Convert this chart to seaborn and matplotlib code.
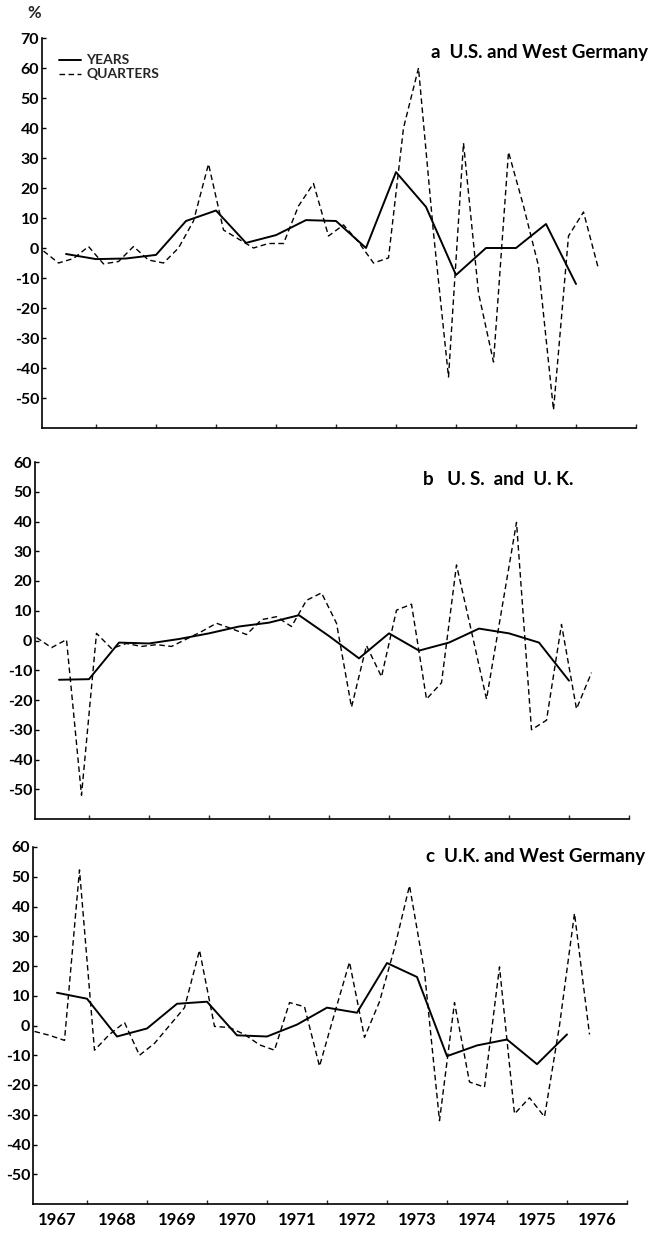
import numpy as np
import pandas as pd
import matplotlib
matplotlib.use("Agg")
import matplotlib.pyplot as plt
import seaborn as sns

# quarterly observations, 1967 Q1 .. 1976 Q2
q_year = np.repeat(np.arange(1967, 1977), 4)[:38]
q_num = np.tile([1, 2, 3, 4], 10)[:38]

# half-yearly points of the annual series, mid 1967 .. end 1975
h_year = np.repeat(np.arange(1967, 1976), 2)
h_half = np.tile([1, 2], 9)

# a  U.S. and West Germany
us_wg_quarters = [-1, -5, -3.5, 0.5, -5.3, -4.5, 0.5, -4, -5, 0,
                  9, 28, 6, 3, 0, 1.5, 1.5, 14, 21.5, 4,
                  7.7, 2, -5, -3.3, 40, 60, 5, -43, 35, -15,
                  -38, 32, 14, -6, -54, 4, 12, -7]
us_wg_years = [-2, -3.7, -3.5, -2.3, 9, 12.5, 1.7, 4.3, 9.3, 9,
               0, 25.3, 13.7, -9, 0, 0, 8, -12]

# b  U.S. and U.K.
us_uk_quarters = [1, -2.4, 0.3, -52, 2.4, -2.7, -1, -2, -1.4, -2,
                  0.5, 3, 5.8, 4, 2, 7, 8, 4.7, 13.5, 16,
                  5.8, -22.4, -1.7, -12.2, 10.2, 12.2, -19.7, -14.2, 25.4, 3,
                  -19.7, 10, 39.7, -30, -26.8, 5.4, -23, -10.8]
us_uk_years = [-13.2, -13, -0.7, -1, 0.5, 2.4, 4.7, 6, 8.5, 1.5,
               -6, 2.4, -3.4, -0.7, 4, 2.4, -0.7, -13.5]

# c  U.K. and West Germany
uk_wg_quarters = [-2, -3.3, -5, 52.3, -8.3, -3, 1, -10, -6, 0,
                  6, 25.3, -0.3, -0.7, -3, -6.5, -8.3, 7.7, 6.3, -13.7,
                  4, 21.3, -4, 8, 26, 47, 18, -32, 7.7, -19,
                  -20.7, 19.7, -29.7, -24.3, -30.7, 0, 37.7, -3]
uk_wg_years = [11, 9, -3.7, -1, 7.3, 8, -3.3, -3.7, 0.3, 6,
               4.3, 21, 16.3, -10.3, -6.7, -4.7, -13, -3]

year_labels = [str(y) for y in range(1967, 1977)]

sns.set_theme(style="ticks")
plt.rcParams["font.family"] = ["Lato", "DejaVu Sans"]
plt.rcParams["font.weight"] = "bold"
plt.rcParams["axes.unicode_minus"] = False

qx = q_year + (q_num - 0.5) / 4.0
hx = h_year + h_half / 2.0

panels = [
    ("a  U.S. and West Germany", us_wg_quarters, us_wg_years, 70,
     [42 / 653, 1 - 428 / 1233, 594 / 653, 390 / 1233], 1.02, 0.964, "right"),
    ("b   U. S.  and  U. K.", us_uk_quarters, us_uk_years, 60,
     [35 / 653, 1 - 819 / 1233, 594 / 653, 357 / 1233], 0.653, 0.952, "left"),
    ("c  U.K. and West Germany", uk_wg_quarters, uk_wg_years, 60,
     [33 / 653, 1 - 1204 / 1233, 594 / 653, 357 / 1233], 1.03, 0.972, "right"),
]

fig = plt.figure(figsize=(6.53, 12.33), dpi=100)

for i, (title, quarters, years, ytop, rect, tx, ty, tha) in enumerate(panels):
    ax = fig.add_axes(rect)
    df_q = pd.DataFrame({"x": qx, "v": quarters})
    df_y = pd.DataFrame({"x": hx, "v": years})
    sns.lineplot(data=df_y, x="x", y="v", ax=ax, color="black", lw=1.4,
                 label="YEARS")
    sns.lineplot(data=df_q, x="x", y="v", ax=ax, color="black", lw=1.0,
                 linestyle=(0, (4, 2.5)), label="QUARTERS")

    ax.set_xlim(1967.1, 1977.0)
    ax.set_ylim(-60, ytop)
    ax.set_xlabel("")
    ax.set_ylabel("")
    sns.despine(ax=ax)
    for s in ("left", "bottom"):
        ax.spines[s].set_linewidth(1.2)
        ax.spines[s].set_color("black")

    yt = np.arange(-50, ytop + 1, 10)
    ax.set_yticks(yt)
    ax.set_yticklabels([str(v) for v in yt])
    ax.tick_params(axis="y", direction="in", length=3, width=1, pad=2,
                   labelsize=11.5, colors="black")
    ax.set_xticks(np.arange(1968, 1978))
    ax.tick_params(axis="x", which="major", direction="in", length=3,
                   width=1, labelbottom=False)
    if i == 2:
        ax.set_xticks(np.arange(1967, 1977) + 0.5, minor=True)
        ax.set_xticklabels(year_labels, minor=True)
        ax.tick_params(axis="x", which="minor", length=0, pad=6,
                       labelsize=12, colors="black")

    ax.text(tx, ty, title, transform=ax.transAxes, ha=tha, va="center",
            fontsize=13.5, fontweight="bold", color="black")

    if i == 0:
        ax.legend(loc="upper left", bbox_to_anchor=(0.029, 0.958),
                  frameon=False, prop={"size": 10, "weight": "bold"},
                  handlelength=1.6, handletextpad=0.35, labelspacing=0.15,
                  borderpad=0, borderaxespad=0)
    else:
        ax.get_legend().remove()

fig.text(27 / 653, 1 - 13 / 1233, "%", fontsize=12, fontweight="bold",
         va="center", ha="left")

fig.savefig("out.png", dpi=100, facecolor="white")
